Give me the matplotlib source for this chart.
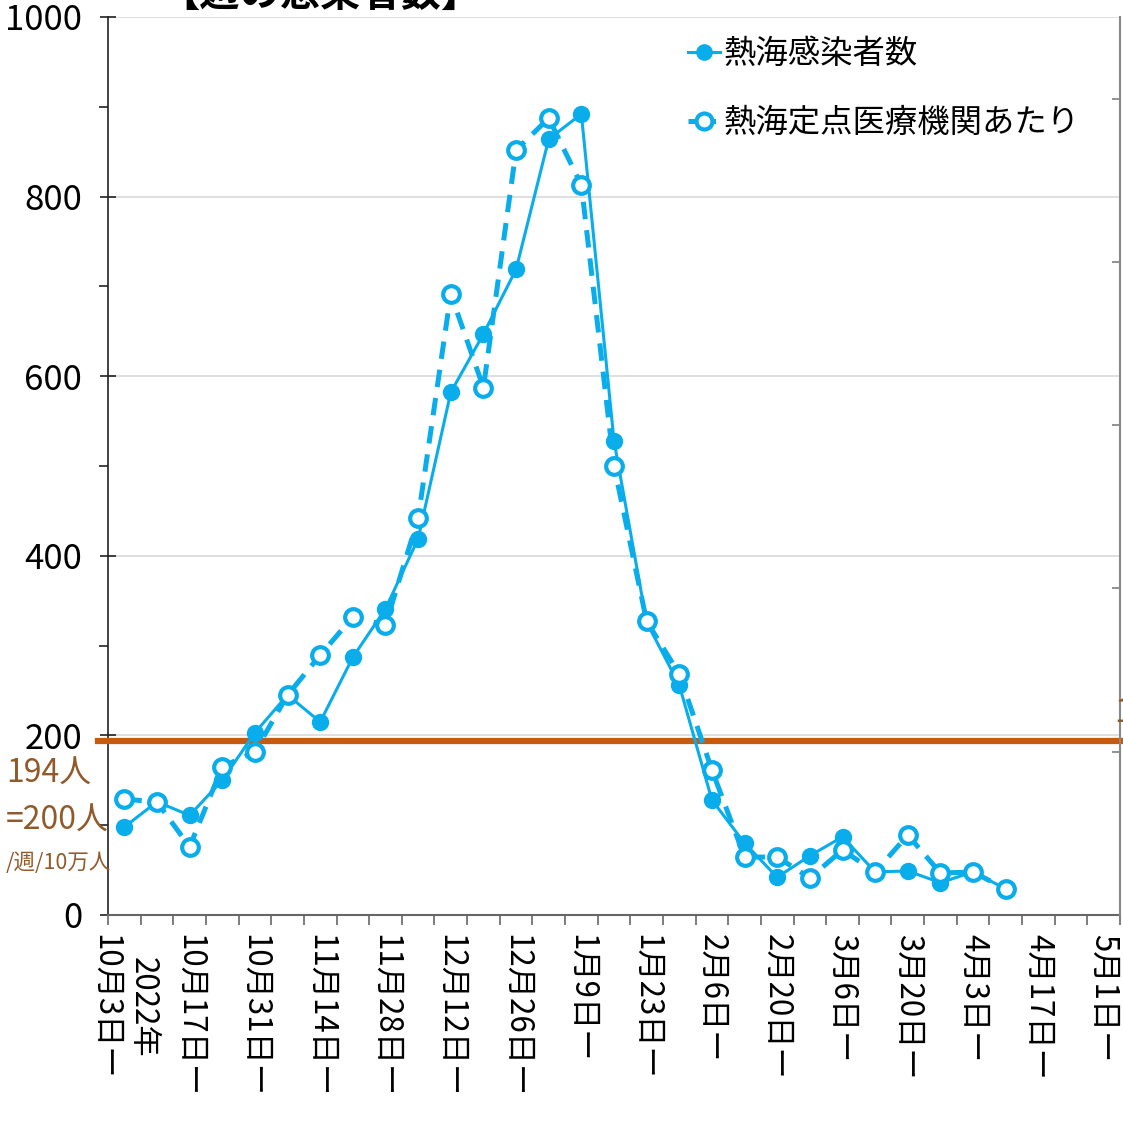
import numpy as np
import matplotlib.pyplot as plt
from matplotlib.lines import Line2D

plt.rcParams['font.family'] = ['Noto Sans CJK JP', 'DejaVu Sans']

# Data (weekly, first week = 2022-10-03)
n_weeks = 31
date_labels = ["2022年\n10月3日ー", "10月17日ー", "10月31日ー", "11月14日ー", "11月28日ー",
               "12月12日ー", "12月26日ー", "1月9日ー", "1月23日ー", "2月6日ー", "2月20日ー",
               "3月6日ー", "3月20日ー", "4月3日ー", "4月17日ー", "5月1日ー"]
y_ticks = [0, 200, 400, 600, 800, 1000]
y_labels = ['0', '200', '400', '600', '800', '1000']
cases = [98, 126, 111, 150, 203, 245, 215, 287, 341, 419, 582, 647, 719, 864, 892,
         528, 326, 256, 128, 80, 42, 66, 87, 48, 49, 36, 48, 29]
per_sentinel = [7.10, 6.92, 4.18, 9.08, 10.00, 13.47, 15.92, 18.25, 17.76, 24.31, 38.04,
                32.30, 46.85, 48.80, 44.71, 27.50, 17.99, 14.76, 8.88, 3.55, 3.55, 2.27,
                3.98, 2.63, 4.90, 2.57, 2.63, 1.59]
threshold = 194

blue = '#0AADEB'
orange = '#C55A11'
brown = '#915A2A'

W, H = 1123, 1122
fig = plt.figure(figsize=(W / 100, H / 100), dpi=100)
ax = fig.add_axes([108 / W, 1 - 915 / H, (1120 - 108) / W, (915 - 17) / H])

x = np.arange(len(cases))
ax.plot(x, cases, color=blue, lw=2.2, marker='o', ms=11.5, mfc=blue, mec=blue, zorder=5)
ax.axhline(threshold, xmin=-0.01, xmax=1, color=orange, lw=4.5, clip_on=False, zorder=3)

ax.set_xlim(-0.5, n_weeks - 0.5)
ax.set_ylim(0, 1000)
ax.set_yticks(y_ticks)
ax.set_yticklabels(y_labels, fontsize=25)
ax.set_yticks(np.arange(100, 1000, 200), minor=True)
ax.tick_params(axis='y', which='major', direction='inout', length=12, width=1.2,
               color='#222222', pad=12.5)
ax.tick_params(axis='y', which='minor', direction='out', length=6.5, width=1.2, color='#222222')

ax.set_xticks(np.arange(-0.5, n_weeks, 1))
ax.set_xticks(np.arange(0, n_weeks, 2), minor=True)
ax.set_xticklabels([], minor=False)
ax.set_xticklabels(date_labels, minor=True, rotation=-90, va='top', ha='center',
                   multialignment='center', fontsize=22.5)
ax.tick_params(axis='x', which='major', direction='out', length=7, width=1.2, color='#666666')
ax.tick_params(axis='x', which='minor', length=0, pad=14)

ax.grid(axis='y', color='#D9D9D9', lw=1.2)
ax.set_axisbelow(True)
ax.spines['top'].set_visible(False)
ax.spines['right'].set_visible(False)
ax.spines['left'].set_color('#222222')
ax.spines['left'].set_linewidth(1.2)
ax.spines['bottom'].set_color('#666666')
ax.spines['bottom'].set_linewidth(1.5)

ax2 = ax.twinx()
ax2.plot(x, per_sentinel, color=blue, lw=3.6, ls=(0, (3.5, 2.2)), marker='o', ms=12,
         mfc='white', mec=blue, mew=3, zorder=6)
ax2.set_ylim(0, 55)
ax2.set_yticks(np.arange(10, 51, 10))
ax2.tick_params(axis='y', direction='in', length=6, width=1.2, color='#7F7F7F', labelright=False)
for s in ['top', 'left', 'bottom']:
    ax2.spines[s].set_visible(False)
ax2.spines['right'].set_color('#888888')
ax2.spines['right'].set_linewidth(1.5)

handles = [
    Line2D([], [], color=blue, lw=2.2, marker='o', ms=11, mfc=blue, mec=blue),
    Line2D([], [], color=blue, lw=3.6, ls=(0, (2, 1.5)), marker='o', ms=11.5,
           mfc='white', mec=blue, mew=3),
]
ax2.legend(handles, ['熱海感染者数', '熱海定点医療機関あたり'], loc='upper left',
           bbox_to_anchor=(688 / W, 1 - 38 / H), bbox_transform=fig.transFigure,
           frameon=False, fontsize=23.3, handlelength=1.0, handletextpad=0.1,
           labelspacing=1.15, borderpad=0, borderaxespad=0)

fig.text(320 / W, 1 + 6 / H, '【週の感染者数】', ha='center', va='center',
         fontsize=29, fontweight='bold')
fig.text(6 / W, 1 - 774 / H, '194人', color=brown, fontsize=23, ha='left', va='center')
fig.text(6 / W, 1 - 821 / H, '=200人', color=brown, fontsize=23, ha='left', va='center')
fig.text(6 / W, 1 - 863 / H, '/週/10万人', color=brown, fontsize=15.5, ha='left', va='center')
fig.text(1114 / W, 1 - 714 / H, '194人', color=brown, fontsize=23, ha='left', va='center')

fig.savefig('out.png', dpi=100)
